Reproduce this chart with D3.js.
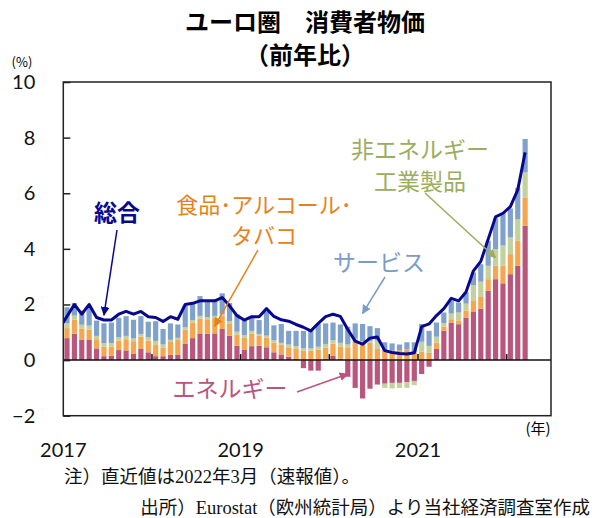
<!DOCTYPE html>
<html>
<head>
<meta charset="utf-8">
<script src="https://cdn.jsdelivr.net/npm/d3@7"></script>
<style>
  body { margin: 0; background: #fff; }
</style>
</head>
<body>
<div id="chart"></div>
<script>
// months on the axis (data runs to 2022-03, axis to 2022-06)
var months = [
  "2017-01","2017-02","2017-03","2017-04","2017-05","2017-06","2017-07","2017-08","2017-09","2017-10","2017-11","2017-12",
  "2018-01","2018-02","2018-03","2018-04","2018-05","2018-06","2018-07","2018-08","2018-09","2018-10","2018-11","2018-12",
  "2019-01","2019-02","2019-03","2019-04","2019-05","2019-06","2019-07","2019-08","2019-09","2019-10","2019-11","2019-12",
  "2020-01","2020-02","2020-03","2020-04","2020-05","2020-06","2020-07","2020-08","2020-09","2020-10","2020-11","2020-12",
  "2021-01","2021-02","2021-03","2021-04","2021-05","2021-06","2021-07","2021-08","2021-09","2021-10","2021-11","2021-12",
  "2022-01","2022-02","2022-03","2022-04","2022-05","2022-06"
];
var yearLabels = ["2017", "2019", "2021"];
var yearTicks = ["2018", "2019", "2020", "2021", "2022"];
var yTicks = [-2, 0, 2, 4, 6, 8, 10];

// contributions (%pt)
var energy = [
  0.79,0.95,0.74,0.74,0.42,0.14,0.15,0.36,0.35,0.22,0.40,0.28,
  0.14,0.14,0.19,0.20,0.58,0.79,0.96,0.95,0.96,1.12,0.88,0.52,
  0.38,0.50,0.52,0.46,0.28,0.20,0.12,0.04,-0.29,-0.38,-0.38,0.05,
  0.15,0.05,-0.60,-1.00,-1.38,-1.03,-0.88,-0.85,-0.82,-0.82,-0.80,-0.75,
  -0.50,-0.24,0.40,1.05,1.35,1.29,1.53,1.75,1.85,2.49,2.91,2.76,
  3.09,3.39,4.83
];
var food = [
  0.36,0.50,0.40,0.35,0.33,0.34,0.34,0.34,0.40,0.46,0.44,0.42,
  0.40,0.30,0.46,0.52,0.52,0.55,0.53,0.52,0.55,0.46,0.42,0.40,
  0.42,0.45,0.35,0.35,0.35,0.35,0.34,0.38,0.34,0.34,0.38,0.40,
  0.44,0.44,0.46,0.70,0.62,0.62,0.40,0.33,0.34,0.36,0.38,0.28,
  0.30,0.26,0.22,0.16,0.12,0.12,0.25,0.40,0.42,0.42,0.48,0.64,
  0.72,0.90,1.02
];
var goods = [
  0.17,0.15,0.13,0.15,0.12,0.13,0.12,0.12,0.12,0.10,0.10,0.12,
  0.15,0.12,0.08,0.08,0.08,0.10,0.10,0.08,0.08,0.08,0.10,0.10,
  0.10,0.10,0.07,0.07,0.08,0.07,0.10,0.08,0.08,0.08,0.10,0.13,
  0.13,0.13,0.10,0.07,0.06,0.07,0.30,-0.15,-0.20,-0.18,-0.20,-0.15,
  0.36,0.25,0.22,0.12,0.20,0.30,0.25,0.55,0.55,0.48,0.60,0.72,
  0.60,0.78,0.90
];
var services = [
  0.58,0.45,0.51,0.68,0.55,0.71,0.74,0.70,0.71,0.67,0.64,0.56,
  0.71,0.56,0.59,0.48,0.77,0.61,0.71,0.60,0.59,0.74,0.65,0.63,
  0.57,0.50,0.50,0.87,0.54,0.68,0.49,0.55,0.63,0.63,0.82,0.74,
  0.63,0.66,0.64,0.55,0.62,0.53,0.45,0.31,0.26,0.20,0.26,0.36,
  0.64,0.54,0.51,0.38,0.46,0.36,0.40,0.45,0.63,0.90,1.11,1.18,
  1.04,1.13,1.20
];
// headline (y/y %), plus the Dec 2016 value the line comes in from
var headlinePrev = 1.15;
var headline = [
  1.57,2.00,1.65,2.00,1.53,1.44,1.44,1.65,1.75,1.65,1.75,1.56,
  1.53,1.39,1.56,1.47,2.00,2.04,2.13,2.13,2.13,2.25,1.95,1.60,
  1.44,1.56,1.56,1.85,1.57,1.45,1.40,1.28,1.18,1.05,1.32,1.56,
  1.65,1.57,1.10,0.68,0.57,0.79,0.83,0.34,0.27,0.24,0.22,0.26,
  1.20,1.30,1.60,1.85,2.22,2.13,2.45,3.21,3.55,4.35,5.15,5.28,
  5.52,6.12,7.47
];

var W = 592, H = 518;
var plot = { left: 63.3, right: 551, top: 82, bottom: 415.7 };
var jp = "'Noto Sans CJK JP', sans-serif";
var num = "Lato, 'Liberation Sans', sans-serif";
var note = "'Liberation Serif', 'Noto Sans CJK JP', serif";

var keys = ["energy", "food", "goods", "services"];
var colors = { energy: "#b9567c", food: "#f6a64e", goods: "#c3d19d", services: "#80a1ca" };
var navy = "#08088f";

var svg = d3.select("#chart").append("svg")
    .attr("width", W).attr("height", H)
    .style("font-family", jp);

var x = d3.scaleBand().domain(months)
    .range([plot.left, plot.right])
    .paddingInner(0.3).paddingOuter(0.15);
var y = d3.scaleLinear().domain([-2, 10]).range([plot.bottom, plot.top]);
var pad = x.step() * x.paddingInner() / 2;

svg.append("defs").append("clipPath").attr("id", "clip")
  .append("rect")
    .attr("x", plot.left).attr("y", plot.top)
    .attr("width", plot.right - plot.left).attr("height", plot.bottom - plot.top);

// stacked bars
var table = energy.map(function (v, i) {
    return { month: months[i], energy: v, food: food[i], goods: goods[i], services: services[i] };
});
var series = d3.stack().keys(keys).offset(d3.stackOffsetDiverging)(table);

svg.append("g").selectAll("g").data(series).enter().append("g")
    .attr("fill", function (d) { return colors[d.key]; })
  .selectAll("rect").data(function (d) { return d; }).enter().append("rect")
    .attr("x", function (d) { return x(d.data.month); })
    .attr("width", x.bandwidth())
    .attr("y", function (d) { return y(Math.max(d[0], d[1])); })
    .attr("height", function (d) { return Math.abs(y(d[0]) - y(d[1])); });

// zero line and year ticks
svg.append("line")
    .attr("x1", plot.left).attr("x2", plot.right)
    .attr("y1", y(0)).attr("y2", y(0))
    .attr("stroke", "#111").attr("stroke-width", 1.5);

svg.append("g").selectAll("line").data(yearTicks).enter().append("line")
    .attr("x1", function (d) { return x(d + "-01") - pad; })
    .attr("x2", function (d) { return x(d + "-01") - pad; })
    .attr("y1", y(0)).attr("y2", y(0) - 6)
    .attr("stroke", "#111").attr("stroke-width", 1.5);

// headline line
var linePts = [[x(months[0]) - x.step() + x.bandwidth() / 2, headlinePrev]].concat(
    headline.map(function (v, i) { return [x(months[i]) + x.bandwidth() / 2, v]; }));

svg.append("path")
    .datum(linePts)
    .attr("clip-path", "url(#clip)")
    .attr("fill", "none")
    .attr("stroke", navy)
    .attr("stroke-width", 3)
    .attr("stroke-linejoin", "round")
    .attr("d", d3.line().x(function (d) { return d[0]; }).y(function (d) { return y(d[1]); }));

// frame
svg.append("rect")
    .attr("x", plot.left).attr("y", plot.top)
    .attr("width", plot.right - plot.left).attr("height", plot.bottom - plot.top)
    .attr("fill", "none").attr("stroke", "#222").attr("stroke-width", 1.5);

// y axis
var yAxis = svg.append("g")
    .attr("transform", "translate(" + plot.left + ",0)")
    .call(d3.axisLeft(y).tickValues(yTicks).tickSize(-7).tickPadding(28));
yAxis.select(".domain").remove();
yAxis.selectAll("line").attr("stroke", "#222").attr("stroke-width", 1.5);
yAxis.selectAll("text")
    .attr("font-family", num).attr("font-size", 20).attr("fill", "#111");

// x labels
svg.append("g").selectAll("text").data(yearLabels).enter().append("text")
    .attr("x", function (d) { return x(d + "-01") - pad; })
    .attr("y", 450)
    .attr("dy", "0.35em")
    .attr("text-anchor", "middle")
    .attr("font-family", num).attr("font-size", 20).attr("fill", "#111")
    .text(function (d) { return d; });

svg.append("text").attr("x", 22).attr("y", 62).attr("dy", "0.35em")
    .attr("text-anchor", "middle").attr("font-size", 13).text("(%)");
svg.append("text").attr("x", 538).attr("y", 429).attr("dy", "0.35em")
    .attr("text-anchor", "middle").attr("font-size", 15).text("(年)");

// titles
svg.append("text").attr("x", 305).attr("y", 23).attr("dy", "0.35em")
    .attr("text-anchor", "middle").attr("font-size", 24).attr("font-weight", "bold")
    .text("ユーロ圏　消費者物価");
svg.append("text").attr("x", 305).attr("y", 56).attr("dy", "0.35em")
    .attr("text-anchor", "middle").attr("font-size", 24).attr("font-weight", "bold")
    .text("（前年比）");

// annotations: label lines, tail point, arrow target (month, value)
var notes = [
    { lines: ["総合"], color: navy, x: 117, y: 213, size: 23, weight: "bold", tail: [117, 230], month: "2017-06", value: 1.62 },
    { lines: ["食品･アルコール･", "タバコ"], color: "#e5821c", x: [264, 264], y: [205, 236], size: 22, tail: [258, 250], month: "2018-09", value: 1.22 },
    { lines: ["サービス"], color: "#7b9cc8", x: 379, y: 263, size: 23, tail: [385, 277], month: "2020-05", value: 1.68 },
    { lines: ["非エネルギー", "工業製品"], color: "#9aae5e", x: [420, 420], y: [150, 182], size: 23, tail: [425, 193], month: "2021-11", value: 3.68 },
    { lines: ["エネルギー"], color: "#bd5480", x: 230, y: 389, size: 23, tail: [297, 392], month: "2020-03", value: -0.5 }
];

var defs = svg.select("defs");
notes.forEach(function (n, k) {
    defs.append("marker").attr("id", "arr" + k)
        .attr("viewBox", "0 0 10 10").attr("refX", 9).attr("refY", 5)
        .attr("markerWidth", 9).attr("markerHeight", 9)
        .attr("markerUnits", "userSpaceOnUse")
        .attr("orient", "auto")
      .append("path").attr("d", "M0,0L10,5L0,10z").attr("fill", n.color);

    var tx = x(n.month) + x.bandwidth() / 2, ty = y(n.value);
    svg.append("line")
        .attr("x1", n.tail[0]).attr("y1", n.tail[1])
        .attr("x2", tx).attr("y2", ty)
        .attr("stroke", n.color).attr("stroke-width", 1.5)
        .attr("marker-end", "url(#arr" + k + ")");

    n.lines.forEach(function (s, j) {
        svg.append("text")
            .attr("x", Array.isArray(n.x) ? n.x[j] : n.x)
            .attr("y", Array.isArray(n.y) ? n.y[j] : n.y)
            .attr("dy", "0.35em")
            .attr("text-anchor", "middle")
            .attr("font-size", n.size)
            .attr("font-weight", n.weight || "normal")
            .attr("fill", n.color)
            .text(s);
    });
});

// footnotes
svg.append("text").attr("x", 64).attr("y", 477).attr("dy", "0.35em")
    .attr("font-family", note).attr("font-size", 18.5).attr("fill", "#111")
    .text("注）直近値は2022年3月（速報値）。");
svg.append("text").attr("x", 590).attr("y", 508).attr("dy", "0.35em")
    .attr("text-anchor", "end")
    .attr("font-family", note).attr("font-size", 18.5).attr("fill", "#111")
    .text("出所）Eurostat（欧州統計局）より当社経済調査室作成");
</script>
</body>
</html>
